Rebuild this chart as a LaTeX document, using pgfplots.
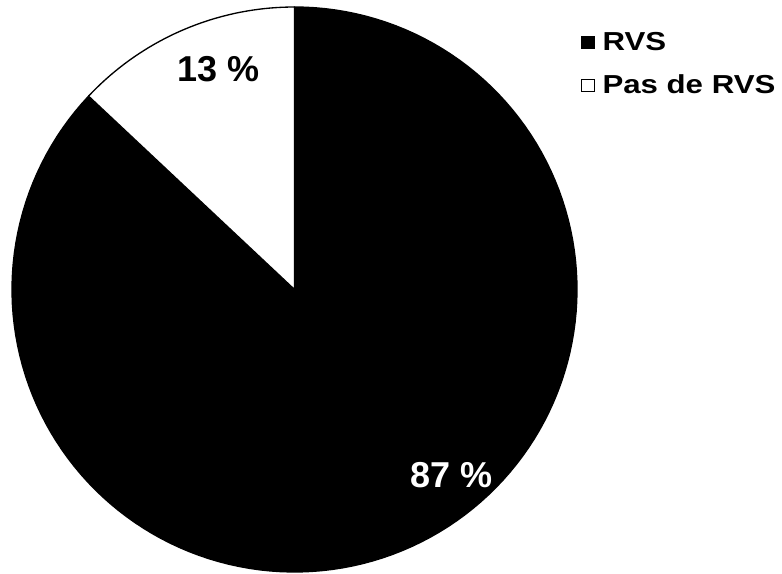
\documentclass[border=0pt]{standalone}
\usepackage{fontspec}
\setmainfont{Liberation Sans}
\newfontfamily\legfont{Liberation Sans}[FakeStretch=1.2]
\usepackage{pgfplots}
\pgfplotsset{compat=1.18}

% share of patients (percent)
\def\pctRVS{87}
\def\pctNoRVS{13}
% pie geometry in pixel units of the reference
\def\cx{294.5}
\def\cy{284.5}
\def\rad{282.5}

\begin{document}
\begin{tikzpicture}
\begin{axis}[
  scale only axis, width=586.5pt, height=430.5pt,
  xmin=0, xmax=782, ymin=0, ymax=574,
  hide axis, clip=false,
  legend style={at={(axis cs:581,541.5)}, anchor=north west, draw=none, fill=none,
    font=\legfont\bfseries\fontsize{19.5}{19.5}\selectfont, inner sep=0pt, row sep=16.5pt,
    nodes={inner sep=0pt}, legend cell align=left},
  /tikz/every odd column/.append style={column sep=6pt},
  legend image code/.code={\draw[#1,line width=0.75pt] (0pt,-4.6pt) rectangle (9.2pt,4.6pt);},
]
\path (rel axis cs:0,0) rectangle (rel axis cs:1,1);
% RVS slice, clockwise from 12 o'clock
\addplot[fill=black, draw=black, line width=1pt, domain={90+3.6*\pctNoRVS}:450, samples=150]
  ({\cx+\rad*cos(x)}, {\cy+\rad*sin(x)}) -- (axis cs:\cx,\cy) -- cycle;
\addlegendentry{RVS}
% no RVS slice
\addplot[fill=white, draw=black, line width=1pt, domain=90:{90+3.6*\pctNoRVS}, samples=40]
  ({\cx+\rad*cos(x)}, {\cy+\rad*sin(x)}) -- (axis cs:\cx,\cy) -- cycle;
\addlegendentry{Pas de RVS}
\node[font=\bfseries\fontsize{27}{27}\selectfont] at (axis cs:219,504.5) {\pctNoRVS{} \%};
\node[font=\bfseries\fontsize{27}{27}\selectfont, text=white] at (axis cs:452,99) {\pctRVS{} \%};
\end{axis}
\end{tikzpicture}
\end{document}
